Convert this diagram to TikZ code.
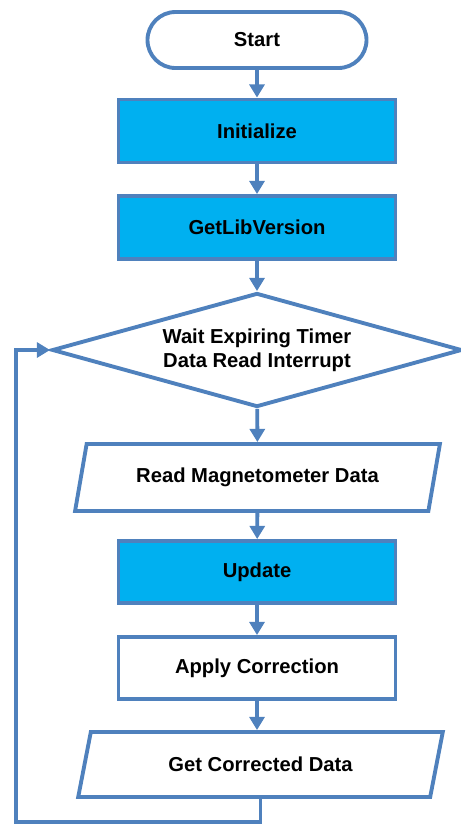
\documentclass[tikz,border=0pt]{standalone}
\usepackage{fontspec}
\setmainfont{Liberation Sans}
\usetikzlibrary{arrows.meta,shapes.geometric}
\definecolor{flowblue}{RGB}{79,129,189}
\definecolor{flowcyan}{RGB}{0,176,240}

\begin{document}
\begin{tikzpicture}[
      base/.style={draw=flowblue, line width=2.2pt, font=\fontsize{11.5}{13.6}\selectfont\bfseries, align=center, inner sep=2pt},
      terminal/.style={base, rectangle, rounded corners=0.56cm, minimum width=4.38cm, minimum height=1.12cm, fill=white},
      process/.style={base, rectangle, minimum width=5.54cm, minimum height=1.26cm, fill=flowcyan},
      plain/.style={base, rectangle, minimum width=5.54cm, minimum height=1.24cm, fill=white},
      decision/.style={base, diamond, aspect=3.6, inner sep=0pt, minimum width=8.2cm, minimum height=2.28cm, fill=white},
      io/.style={base, trapezium, trapezium left angle=72, trapezium right angle=108, trapezium stretches=true, minimum width=7.3cm, minimum height=1.34cm, fill=white},
      flow/.style={draw=flowblue, line width=2.2pt, -{Triangle[width=8.5pt,length=7.5pt]}}
    ]
      \useasboundingbox (0,0) rectangle (9.2,-16.5);

      % Main sequence
      \node[terminal] (start) at (5.14,-0.80) {Start};
      \node[process] (init) at (5.14,-2.62) {Initialize};
      \node[process] (libver) at (5.14,-4.55) {GetLibVersion};
      \node[decision] (wait) at (5.14,-7.00) {Wait Expiring Timer\\Data Read Interrupt};
      \node[io] (readmag) at (5.15,-9.55) {Read Magnetometer Data};
      \node[process, minimum height=1.24cm] (update) at (5.14,-11.44) {Update};
      \node[plain] (apply) at (5.14,-13.36) {Apply Correction};
      \node[io, minimum height=1.30cm] (getdata) at (5.21,-15.29) {Get Corrected Data};

      % Arrows
      \draw[flow] (start) -- (init);
      \draw[flow] (init) -- (libver);
      \draw[flow] (libver) -- (wait);
      \draw[flow] (wait) -- (readmag);
      \draw[flow] (readmag) -- (update);
      \draw[flow] (update) -- (apply);
      \draw[flow] (apply.south) -- (apply.south |- getdata.north);

      % Loop back
      \coordinate (loopbot) at (0.32,-16.44);
      \draw[flow] (getdata.south) |- (loopbot) |- (wait.west);
    \end{tikzpicture}
\end{document}
